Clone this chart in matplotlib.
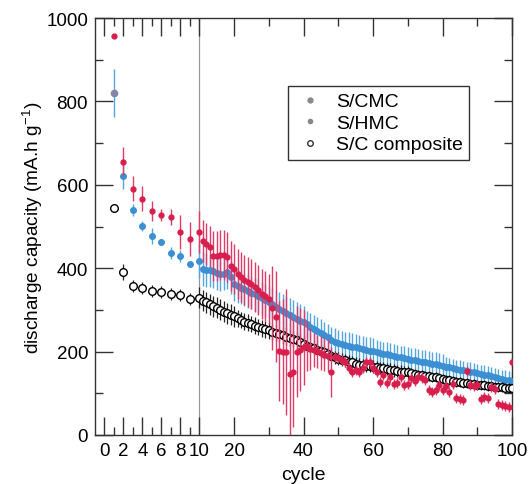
import numpy as np
import matplotlib
matplotlib.use("Agg")
import matplotlib.pyplot as plt
from matplotlib.lines import Line2D
from matplotlib.ticker import FixedLocator, NullFormatter

plt.rcParams["font.family"] = ["Liberation Sans", "DejaVu Sans"]

cycles = list(range(1, 101))

# S/CMC (blue)
cmc = [820, 621, 540, 501, 477, 463, 436, 429, 410,
       417, 398, 396, 395, 393, 388, 385, 387, 390, 378,
       362, 357, 353, 349, 345, 341, 337, 333, 328, 323,
       318, 313, 308, 303, 298, 293, 288, 284, 279, 274,
       270, 265, 260, 255, 250, 245, 240, 235, 228, 224,
       220, 218, 216, 214, 212, 210, 208, 206, 204, 202,
       201, 199, 197, 195, 194, 192, 190, 188, 186, 185,
       183, 181, 180, 178, 176, 175, 173, 171, 170, 168,
       166, 164, 163, 161, 159, 157, 155, 154, 152, 150,
       148, 147, 145, 143, 141, 139, 137, 135, 133, 131, 130]
cmc_err = [57, 30, 15, 12, 20, 8, 15, 15, 8] + [40] * 31 + [32] * 20 + [28] * 20 + [22] * 20

# S/HMC (red)
hmc = [957, 655, 590, 566, 537, 528, 523, 487, 470,
       487, 466, 458, 452, 430, 430, 431, 432, 428, 405,
       398, 387, 378, 372, 366, 361, 354, 347, 339, 333,
       326, 305, 284, 202, 200, 199, 146, 150, 200, 205,
       210, 214, 206, 204, 201, 197, 193, 190, 151, 188,
       184, 180, 176, 160, 150, 155, 152, 160, 176, 175,
       160, 150, 127, 145, 125, 140, 122, 124, 138, 121,
       123, 136, 130, 139, 137, 131, 108, 103, 108, 120,
       108, 118, 103, 122, 88, 86, 84, 153, 120, 118,
       121, 86, 90, 88, 116, 110, 74, 72, 70, 68, 175]
hmc_err = ([0, 35, 30, 30, 25, 15, 20, 40, 40]
           + [50, 50, 50, 50] + [60] * 17
           + [100, 110, 120, 125, 150, 150, 130, 110, 100, 90]
           + [60, 50, 40, 40, 40, 40, 40, 60]
           + [12] * 52)

# S/C composite (open circles)
comp = [544, 391, 357, 352, 345, 343, 338, 336, 326,
        329, 322, 318, 313, 309, 305, 300, 296, 292, 288,
        285, 280, 276, 272, 269, 266, 262, 259, 256, 253,
        251, 248, 245, 242, 239, 236, 233, 230, 227, 222,
        218, 214, 211, 208, 205, 201, 198, 194, 190, 186,
        183, 181, 179, 176, 174, 171, 169, 167, 166, 165,
        164, 162, 161, 160, 158, 157, 155, 154, 152, 151,
        150, 148, 147, 145, 143, 142, 141, 139, 138, 136,
        135, 133, 131, 129, 128, 127, 125, 124, 123, 122,
        121, 120, 119, 118, 117, 116, 115, 114, 113, 113, 112]
comp_err = [0, 20] + [15] * 7 + [25] * 11 + [20] * 20 + [15] * 30 + [12] * 30

legend_labels = ["S/CMC", "S/HMC", "S/C composite"]

K = 3.48 / 9.5  # compression of the 10-100 part


def fwd(x):
    x = np.asarray(x, dtype=float)
    return np.where(x <= 10, x, 10 + (x - 10) * K)


def inv(y):
    y = np.asarray(y, dtype=float)
    return np.where(y <= 10, y, 10 + (y - 10) / K)


fig = plt.figure(figsize=(5.29, 4.85), dpi=100)
ax = fig.add_axes([95 / 529, 1 - 436 / 485, 417 / 529, 417 / 485])
ax.set_xscale("function", functions=(fwd, inv))

ax.axvline(10, color="#999999", lw=0.9, zorder=1)

blue = "#3b8fd2"
red = "#d81e4c"

ax.errorbar(cycles, cmc, yerr=cmc_err, fmt="none", ecolor="#55a6dc",
            elinewidth=1.0, capsize=0, zorder=2)
ax.plot(cycles[1:], cmc[1:], "o", color=blue, ms=4, mec=blue, zorder=3)
ax.plot(cycles[:1], cmc[:1], "o", color="#8585a8", ms=4.5, zorder=3)

ax.errorbar(cycles, comp, yerr=comp_err, fmt="none", ecolor="#222222",
            elinewidth=0.9, capsize=0, zorder=4)
ax.plot(cycles, comp, "o", mfc="white", mec="black", mew=1.0, ms=5.5,
        ls="", zorder=5)

ax.errorbar(cycles, hmc, yerr=hmc_err, fmt="none", ecolor="#e03a66",
            elinewidth=1.0, capsize=0, zorder=6)
ax.plot(cycles, hmc, "o", color=red, ms=3.5, ls="", zorder=7)

ax.set_xlim(-1, 100)
ax.set_ylim(0, 1000)
ax.xaxis.set_major_locator(FixedLocator([0, 2, 4, 6, 8, 10, 20, 40, 60, 80, 100]))
ax.xaxis.set_minor_locator(FixedLocator([1, 3, 5, 7, 9, 30, 50, 70, 90]))
ax.xaxis.set_minor_formatter(NullFormatter())
ax.set_xticklabels(["0", "2", "4", "6", "8", "10", "20", "40", "60", "80", "100"])
ax.set_yticks([0, 200, 400, 600, 800, 1000])
ax.yaxis.set_minor_locator(FixedLocator([100, 300, 500, 700, 900]))

ax.tick_params(which="both", direction="in", top=True, right=True,
               labelsize=13.5, width=1.0, colors="#333333", labelcolor="black")
ax.tick_params(which="major", length=13, pad=5)
ax.tick_params(which="minor", length=6)
for s in ax.spines.values():
    s.set_color("#333333")
    s.set_linewidth(1.0)

ax.set_xlabel("cycle", fontsize=14, labelpad=5)
ax.set_ylabel("discharge capacity (mA.h g$^{\\mathregular{-1}}$)", fontsize=13.7, labelpad=1)

handles = [
    Line2D([], [], marker="o", ls="", color="#888888", ms=3.5),
    Line2D([], [], marker="o", ls="", color="#888888", ms=3),
    Line2D([], [], marker="o", ls="", mfc="white", mec="#333333", ms=4),
]
leg = ax.legend(handles, legend_labels, loc="upper left",
                bbox_to_anchor=((288 - 95) / 417, (436 - 87) / 417),
                borderaxespad=0, fontsize=14, frameon=True, fancybox=False,
                borderpad=0.35, labelspacing=0.2, handletextpad=0.5,
                handlelength=1.6)
leg.get_frame().set_edgecolor("black")
leg.get_frame().set_linewidth(1.0)

fig.savefig("out.png", dpi=100)
